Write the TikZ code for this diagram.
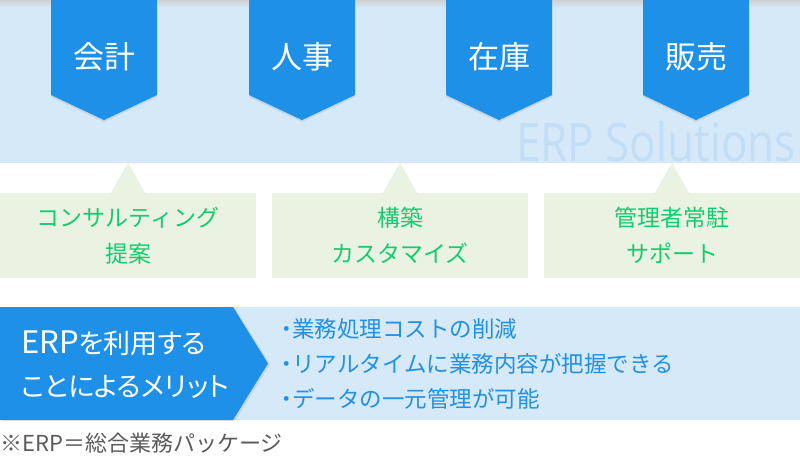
\documentclass[tikz,border=0pt]{standalone}
\usepackage{fontspec}
\setmainfont{Noto Sans CJK JP}
\newfontfamily\pfont{Noto Sans CJK JP}[RawFeature=+palt]
\newfontfamily\latinfont{Open Sans}
\usetikzlibrary{shadows,calc}
\definecolor{band}{HTML}{D5E9F9}
\definecolor{rblue}{HTML}{1F90E7}
\definecolor{wmark}{HTML}{C2DEF6}
\definecolor{gbox}{HTML}{EAF3E2}
\definecolor{gtext}{HTML}{14CC70}
\definecolor{btext}{HTML}{2290E4}
\definecolor{notegray}{HTML}{5B5B5B}
\tikzset{
  ribbon/.style={fill=rblue, drop shadow={shadow xshift=0pt, shadow yshift=-2pt, opacity=0.15, fill=black!60}},
  ribbontext/.style={text=white, inner sep=0pt, font=\fontsize{31}{31}\selectfont},
  greenbox/.style={fill=gbox, minimum width=256pt, minimum height=85pt, inner sep=0pt, align=center,
    text=gtext, font=\fontsize{23}{36}\selectfont},
  pointer/.style={fill=gbox},
}
\begin{document}
\begin{tikzpicture}[x=1pt,y=-1pt]
\useasboundingbox (0,0) rectangle (800,459);
\fill[white] (0,0) rectangle (800,459);
% top band
\fill[band] (0,0) rectangle (800,163);
\shade[top color=black!18, bottom color=band] (0,0) rectangle (800,8);
% watermark
\node[anchor=base west, inner sep=0pt, text=wmark, font=\latinfont\fontsize{53}{53}\selectfont] (wm) at (516,161) {\scalebox{0.83}[1]{ERP Solutions}};
% ribbons
\foreach \x/\t/\n in {104/会計/r1, 302/人事/r2, 499/在庫/r3, 696/販売/r4} {
  \path[ribbon] (\x-53,0) -- (\x+53,0) -- (\x+53,95) -- (\x,120) -- (\x-53,95) -- cycle;
  \node[ribbontext] (\n) at (\x,57) {\t};
}
% green boxes
\node[greenbox] (g1) at (128,235.5) {コンサルティング\\提案};
\node[greenbox] (g2) at (400,235.5) {構築\\カスタマイズ};
\node[greenbox] (g3) at (672,235.5) {管理者常駐\\サポート};
\foreach \g in {g1,g2,g3} {
  \fill[pointer] ($(\g.north)+(-17,0)$) -- ($(\g.north)+(0,-30)$) -- ($(\g.north)+(17,0)$) -- cycle;
}
% bottom band
\fill[band] (0,307) rectangle (800,420);
\path[fill=rblue, drop shadow={shadow xshift=2pt, shadow yshift=-1pt, opacity=0.15, fill=black!60}]
  (0,307) -- (233,307) -- (268,363.5) -- (233,420) -- (0,420) -- cycle;
\node[anchor=west, inner sep=0pt, align=left, text=white, font=\pfont\fontsize{27}{43}\selectfont] (merit) at (21,365)
  {{\fontsize{31}{43}\selectfont ERP}を利用する\\ことによるメリット};
\node[anchor=west, inner sep=0pt, align=left, text=btext, font=\fontsize{22.5}{35}\selectfont] (list) at (281,364)
  {{\pfont ・}業務処理コストの削減\\{\pfont ・}リアルタイムに業務内容が把握できる\\{\pfont ・}データの一元管理が可能};
% footnote
\node[anchor=west, inner sep=0pt, text=notegray, font=\fontsize{22}{22}\selectfont] (note) at (0,443)
  {※ERP＝総合業務パッケージ};
\end{tikzpicture}
\end{document}
